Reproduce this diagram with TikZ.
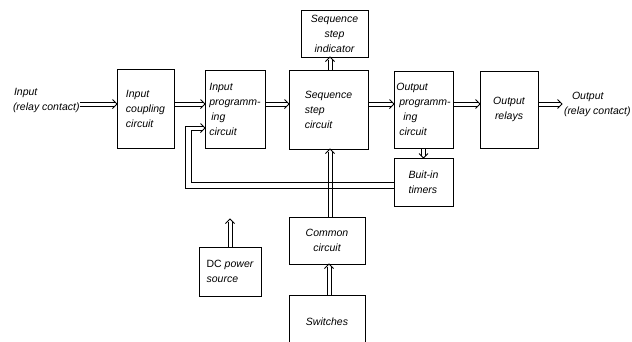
\documentclass[tikz,border=0pt]{standalone}
\usepackage{fontspec}
\setmainfont{Liberation Sans}
\usetikzlibrary{decorations.markings}
\tikzset{
  box/.style={draw, line width=0.8pt, inner sep=0pt, outer sep=0pt, align=left, font=\fontsize{10.5}{15}\selectfont\itshape},
  lbl/.style={inner sep=0pt, outer sep=0pt, align=left, font=\fontsize{10.5}{15}\selectfont\itshape},
  ln/.style={line width=0.75pt},
  tipm/.style={postaction={decorate}, decoration={markings, mark=at position 1 with {\draw[line width=0.75pt, line join=miter] (-4.5pt,4.5pt) -- (0,0) -- (-4.5pt,-4.5pt);}}},
  hdbl/.style={draw=none, tipm,
    postaction={draw, line width=0.75pt, shorten >=2.5pt, transform canvas={yshift=2pt}},
    postaction={draw, line width=0.75pt, shorten >=2.5pt, transform canvas={yshift=-2pt}}},
  hdbn/.style={draw=none,
    postaction={draw, line width=0.75pt, transform canvas={yshift=2pt}},
    postaction={draw, line width=0.75pt, transform canvas={yshift=-2pt}}},
  vdbl/.style={draw=none, tipm,
    postaction={draw, line width=0.75pt, shorten >=2.5pt, transform canvas={xshift=2pt}},
    postaction={draw, line width=0.75pt, shorten >=2.5pt, transform canvas={xshift=-2pt}}},
}
\begin{document}
\begin{tikzpicture}[x=1pt,y=-1pt]
\useasboundingbox (0,0) rectangle (632,341);
% boxes
\node[box, minimum width=57, minimum height=79] (coup) at (145.5,108.5) {Input\\coupling\\circuit};
\node[box, minimum width=60, minimum height=78] (inprog) at (235,109) {Input\\programm-\\\hspace*{2pt}ing\\circuit};
\node[box, minimum width=79, minimum height=79] (seq) at (328.5,109.5) {Sequence\\step\\circuit};
\node[box, minimum width=67, minimum height=47, align=center] (ind) at (334.5,33.5) {Sequence\\step\\indicator};
\node[box, minimum width=59, minimum height=77] (outprog) at (423.5,109.5) {Output\\\hspace*{3pt}programm-\\\hspace*{7pt}ing\\\hspace*{3pt}circuit};
\node[box, minimum width=58, minimum height=77, align=center] (relays) at (509,109.5) {Output\\relays};
\node[box, minimum width=59, minimum height=48] (timers) at (423.5,182) {Buit-in\\timers};
\node[box, minimum width=76, minimum height=47, align=center] (common) at (327,240.5) {Common\\circuit};
\node[box, minimum width=62, minimum height=49] (dc) at (230,271.5) {\upshape DC \itshape power\\source};
\node[lbl] (sw) at (327,322) {Switches};
\draw[line width=0.8pt] (289,342) -- (289,295) -- (365,295) -- (365,342);
\coordinate (swtop) at (329,295);
% labels
\node[lbl, anchor=north west] (in) at (13,88) {\hspace*{1pt}Input\\(relay contact)};
\node[lbl, anchor=north west] (out) at (564,92) {\hspace*{8pt}Output\\(relay contact)};
% main row
\coordinate (row) at (0,104);
\path[hdbl] (in.east |- row) -- (coup.west |- row);
\path[hdbl] (coup.east |- row) -- (inprog.west |- row);
\path[hdbl] (inprog.east |- row) -- (seq.west |- row);
\path[hdbl] (seq.east |- row) -- (outprog.west |- row);
\path[hdbl] (outprog.east |- row) -- (relays.west |- row);
\path[hdbl] (relays.east |- row) -- ([xshift=-2pt]out.west |- row);
% vertical
\coordinate (vx) at (330,0);
\path[vdbl] (seq.north -| vx) -- (ind.south -| vx);
\path[vdbl] (outprog.south) -- (timers.north);
\path[vdbl] (swtop) -- (common.south -| swtop);
\coordinate (dcend) at (230,219);
\path[vdbl] (dc.north) -- (dcend);
\path[vdbl] (common.north -| vx) -- (seq.south -| vx);
% feedback
\coordinate (fbrow) at (0,185);
\coordinate (fbin) at (0,128);
\coordinate (fbs) at (timers.west |- fbrow);
\coordinate (fbc1) at (188,185);
\coordinate (fbc2) at (188,128);
\coordinate (fbe) at (inprog.west |- fbin);
\coordinate (o1) at (185,188);
\coordinate (o2) at (185,126);
\coordinate (i1) at (191,182);
\coordinate (i2) at (191,130);
\draw[ln, line join=miter] (fbs |- o1) -- (o1) -- (o2) -- ([xshift=-2.5pt]fbe |- o2);
\draw[ln, line join=miter] (fbs |- i1) -- (i1) -- (i2) -- ([xshift=-2.5pt]fbe |- i2);
\draw[ln, line join=miter] ([xshift=-4.5pt]fbe |- 0,123.5) -- (fbe) -- ([xshift=-4.5pt]fbe |- 0,132.5);
\end{tikzpicture}
\end{document}
